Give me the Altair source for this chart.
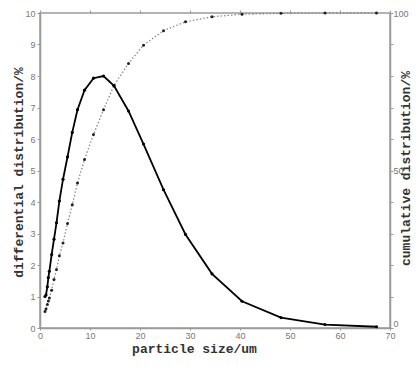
import altair as alt
import pandas as pd

# particle size (um)
sizes = [1.0, 1.2, 1.47, 1.67, 1.87, 2.33, 2.8, 3.3, 3.87, 4.6, 5.5, 6.45, 7.5,
         8.9, 10.7, 12.7, 14.8, 17.7, 20.7, 24.7, 29.1, 34.4, 40.4, 48.2, 57.0, 67.3]
# differential distribution (%)
differential = [1.0, 1.05, 1.31, 1.6, 1.8, 2.33, 2.82, 3.34, 4.03, 4.72, 5.43, 6.21, 6.93,
                7.55, 7.93, 8.0, 7.69, 6.89, 5.84, 4.39, 2.97, 1.72, 0.85, 0.33, 0.11, 0.04]
# cumulative distribution (%)
cumulative = [5.2, 6.0, 7.5, 8.6, 9.5, 12.0, 15.4, 18.6, 22.9, 27.0, 33.2, 39.1, 46.0,
              53.5, 61.4, 69.3, 77.0, 84.0, 89.8, 94.4, 97.2, 98.8, 99.6, 99.9, 100.0, 100.0]

x_ticks = list(range(0, 71, 10))
left_ticks = list(range(0, 11))
right_ticks = list(range(0, 101, 10))

df = pd.DataFrame({"size": sizes, "diff": differential, "cum": cumulative})

AX = "#9a9a9a"
common = dict(domainColor=AX, domainWidth=1.5, tickColor=AX, tickWidth=1,
              labelColor="#777777", labelFont="Liberation Sans", labelFontSize=9,
              titleFont="Liberation Mono", titleFontWeight="bold", titleFontSize=13,
              titleColor="#333333", grid=False)

H = 315

def xscale():
    return alt.Scale(domain=[0, 70], nice=False, zero=False)

base = alt.Chart(df)

cum_line = base.mark_line(
    color="#8a8a8a", strokeWidth=1.3, strokeDash=[1.5, 2],
    point=alt.OverlayMarkDef(filled=True, size=9, color="#222222"),
).encode(
    x=alt.X("size:Q", scale=xscale(), axis=None),
    y=alt.Y("cum:Q", scale=alt.Scale(domain=[0, 100], nice=False),
            axis=alt.Axis(orient="right", values=right_ticks, tickSize=3,
                          labelExpr="datum.value % 50 == 0 ? datum.label : ''",
                          labelBaseline={"condition": {"test": "datum.value == 0", "value": "bottom"},
                                         "value": "middle"},
                          labelPadding=0, title="cumulative distribution/%",
                          titleX=15, titleY=155, titleAngle=270,
                          titleBaseline="middle", titleAlign="center", **common)),
)

diff_line = base.mark_line(
    color="black", strokeWidth=1.8,
    point=alt.OverlayMarkDef(filled=True, size=10, color="black"),
).encode(
    x=alt.X("size:Q", scale=xscale(),
            axis=alt.Axis(values=x_ticks, title="particle size/um", titleX=154, titleY=20,
                          titleBaseline="middle", titleAlign="center", tickSize=2,
                          labelPadding=1, labelFlush=False, **common)),
    y=alt.Y("diff:Q", scale=alt.Scale(domain=[0, 10], nice=False),
            axis=alt.Axis(orient="left", values=left_ticks, title="differential distribution/%",
                          titleX=-22, titleY=159, titleAngle=270, titleBaseline="middle",
                          titleAlign="center", tickSize=3, labelPadding=2, **common)),
)

top_axis = base.mark_point(opacity=0).encode(
    x=alt.X("size:Q", scale=xscale(),
            axis=alt.Axis(orient="top", values=x_ticks, labels=False, title=None,
                          domain=False, ticks=True, tickSize=3, tickColor=AX, grid=False)),
)

chart = alt.layer(cum_line, diff_line, top_axis).resolve_scale(
    y="independent", x="independent"
).properties(
    width=350, height=H,
    autosize=alt.AutoSizeParams(type="none"),
    padding={"left": 32, "top": 5, "right": 22, "bottom": 29},
).configure_view(stroke=AX, strokeWidth=1.5)

chart.save("out.html", embed_options={"renderer": "svg", "actions": False})
